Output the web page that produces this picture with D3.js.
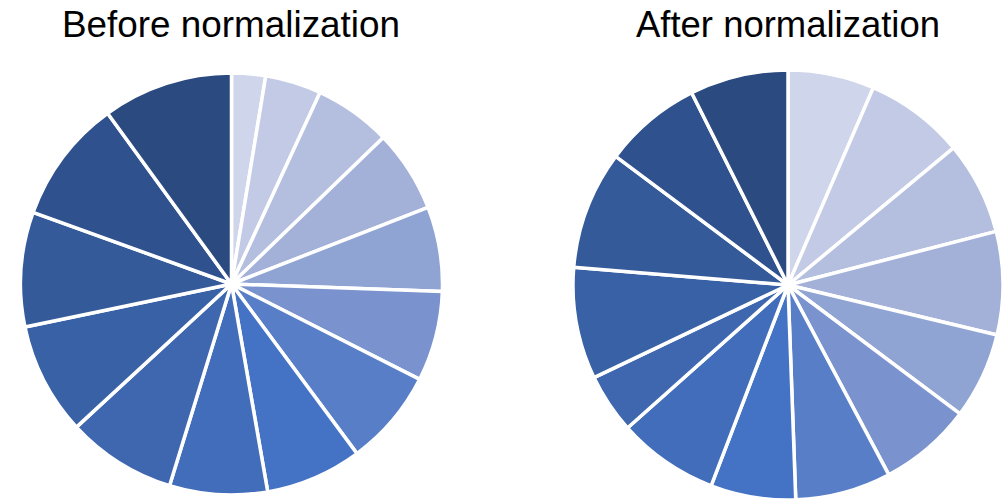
<!DOCTYPE html>
<html>
<head>
<meta charset="utf-8">
<script src="https://cdn.jsdelivr.net/npm/d3@7"></script>
<style>
  html, body { margin: 0; padding: 0; background: #ffffff; }
  svg { display: block; }
</style>
</head>
<body>
<svg id="chart" width="1007" height="503"></svg>
<script>
// Data (percent share of each of 14 groups)
const categories = ["G1","G2","G3","G4","G5","G6","G7","G8","G9","G10","G11","G12","G13","G14"];
const beforeValues = [2.6, 4.3, 5.9, 6.3, 6.5, 6.9, 7.4, 7.4, 7.5, 8.4, 8.6, 8.8, 9.5, 10.0];
const afterValues  = [6.5, 7.5, 7.0, 7.75, 6.5, 7.0, 7.2, 6.4, 7.6, 4.5, 8.4, 8.9, 7.4, 7.4];
const titles = ["Before normalization", "After normalization"];
const colors = ["#CFD5EA","#C2CAE5","#B4BFDF","#A3B1D9","#90A4D4","#7A93CE","#577EC6",
                "#4472C4","#416DBA","#3E67B0","#3961A5","#345A9A","#2F518E","#2B4A80"];

const svg = d3.select("#chart");
const color = d3.scaleOrdinal().domain(categories).range(colors);
const pie = d3.pie().sort(null).value(d => d.value);

const panels = [
  { values: beforeValues, title: titles[0], cx: 231.5, cy: 284, r: 211, tx: 231, tw: 338 },
  { values: afterValues,  title: titles[1], cx: 788,   cy: 285, r: 215, tx: 788, tw: 304 }
];

panels.forEach(p => {
  const data = categories.map((c, i) => ({ cat: c, value: p.values[i] }));
  const arc = d3.arc().innerRadius(0).outerRadius(p.r);
  const g = svg.append("g").attr("transform", `translate(${p.cx},${p.cy})`);
  g.selectAll("path")
    .data(pie(data))
    .join("path")
    .attr("d", arc)
    .attr("fill", d => color(d.data.cat))
    .attr("stroke", "#ffffff")
    .attr("stroke-width", 3.5)
    .attr("stroke-linejoin", "round");

  svg.append("text")
    .attr("x", p.tx)
    .attr("y", 36.5)
    .attr("text-anchor", "middle")
    .attr("font-family", "Liberation Sans, Arial, sans-serif")
    .attr("font-size", 37)
    .attr("fill", "#000000")
    .attr("textLength", p.tw)
    .attr("lengthAdjust", "spacingAndGlyphs")
    .text(p.title);
});
</script>
</body>
</html>
